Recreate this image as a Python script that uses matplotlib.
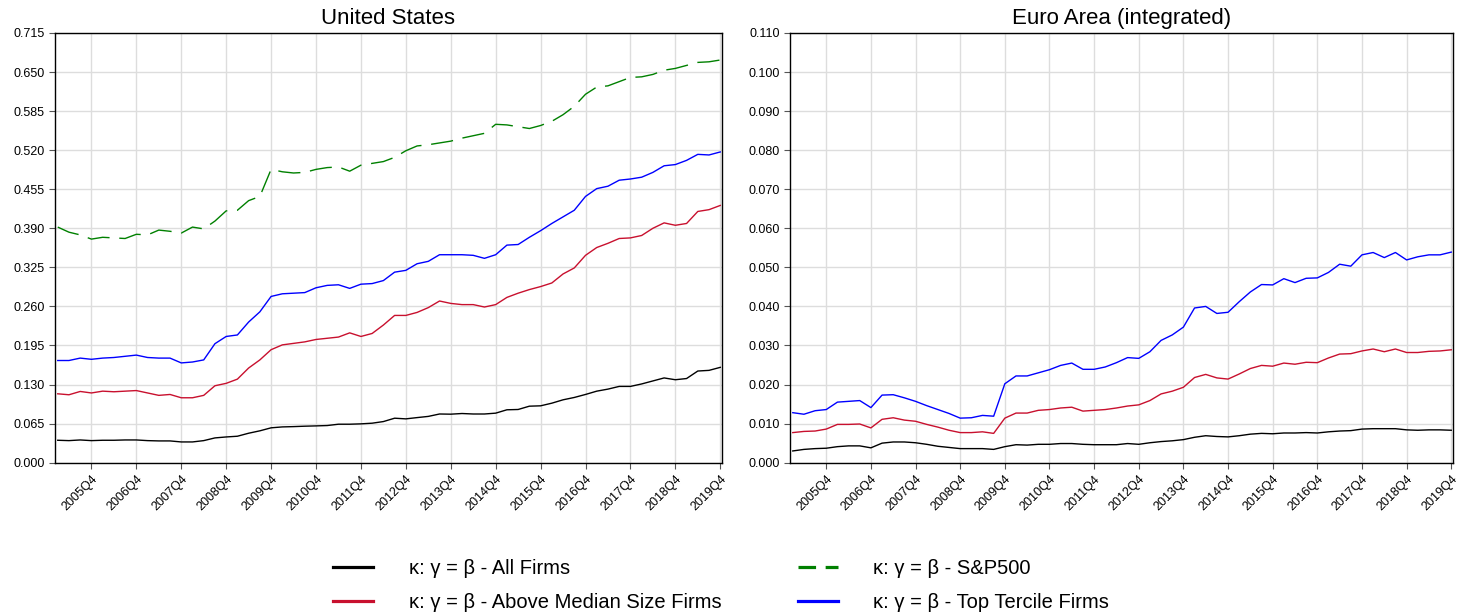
import matplotlib
matplotlib.use("Agg")
import matplotlib.pyplot as plt
from matplotlib.lines import Line2D
import numpy as np

plt.rcParams['font.family'] = ['Liberation Sans', 'DejaVu Sans']

# quarters 2005Q1 .. 2019Q4
quarters = [f"{y}Q{q}" for y in range(2005, 2020) for q in range(1, 5)]
tick_labels = [f"{y}Q4" for y in range(2005, 2020)]

# United States
us_all = [0.0373, 0.0367, 0.0378, 0.0367, 0.0373, 0.0373, 0.0378, 0.0378, 0.0367, 0.0362,
          0.0362, 0.0345, 0.0345, 0.0367, 0.0412, 0.0428, 0.0440, 0.0490, 0.0530, 0.0580,
          0.0595, 0.0600, 0.0607, 0.0612, 0.0618, 0.0640, 0.0640, 0.0646, 0.0657, 0.0684,
          0.0740, 0.0729, 0.0750, 0.0770, 0.0810, 0.0807, 0.0818, 0.0810, 0.0810, 0.0824,
          0.0880, 0.0885, 0.0940, 0.0946, 0.0990, 0.1046, 0.1085, 0.1135, 0.1190, 0.1224,
          0.1269, 0.1269, 0.1310, 0.1360, 0.1410, 0.1380, 0.1400, 0.1525, 0.1536, 0.1586]
us_above_median = [0.1146, 0.1130, 0.1185, 0.1160, 0.1190, 0.1180, 0.1190, 0.1200, 0.1160, 0.1120,
                   0.1135, 0.1080, 0.1080, 0.1120, 0.1280, 0.1320, 0.1390, 0.1575, 0.1710, 0.1880,
                   0.1960, 0.1985, 0.2010, 0.2050, 0.2070, 0.2090, 0.2160, 0.2100, 0.2150, 0.2290,
                   0.2450, 0.2450, 0.2500, 0.2580, 0.2690, 0.2650, 0.2630, 0.2630, 0.2590, 0.2630,
                   0.2750, 0.2820, 0.2880, 0.2930, 0.2990, 0.3140, 0.3240, 0.3450, 0.3580, 0.3650,
                   0.3730, 0.3740, 0.3780, 0.3900, 0.3990, 0.3950, 0.3980, 0.4180, 0.4210, 0.4280]
us_sp500 = [0.392, 0.3835, 0.379, 0.372, 0.375, 0.374, 0.373, 0.380, 0.379, 0.387,
            0.385, 0.382, 0.392, 0.389, 0.402, 0.419, 0.420, 0.436, 0.443, 0.488,
            0.484, 0.482, 0.483, 0.488, 0.491, 0.492, 0.485, 0.495, 0.498, 0.501,
            0.508, 0.519, 0.527, 0.529, 0.532, 0.535, 0.540, 0.544, 0.548, 0.563,
            0.562, 0.559, 0.556, 0.561, 0.568, 0.579, 0.593, 0.613, 0.625, 0.627,
            0.634, 0.641, 0.642, 0.646, 0.653, 0.656, 0.661, 0.666, 0.667, 0.670]
us_top_tercile = [0.170, 0.170, 0.174, 0.172, 0.174, 0.175, 0.177, 0.179, 0.175, 0.174,
                  0.174, 0.166, 0.1675, 0.171, 0.198, 0.210, 0.2125, 0.234, 0.251, 0.2766,
                  0.281, 0.282, 0.283, 0.291, 0.295, 0.296, 0.290, 0.297, 0.298, 0.303,
                  0.317, 0.320, 0.331, 0.335, 0.346, 0.346, 0.346, 0.345, 0.340, 0.346,
                  0.362, 0.363, 0.375, 0.386, 0.398, 0.409, 0.420, 0.443, 0.456, 0.460,
                  0.470, 0.472, 0.475, 0.483, 0.494, 0.496, 0.503, 0.513, 0.512, 0.517]

# Euro Area (integrated)
ea_all = [0.0030, 0.0034, 0.0036, 0.0037, 0.0041, 0.0043, 0.0043, 0.0038, 0.0050, 0.0053,
          0.0053, 0.0051, 0.0047, 0.0042, 0.0039, 0.0036, 0.0036, 0.0036, 0.0034, 0.0041,
          0.0046, 0.0045, 0.0047, 0.0047, 0.0049, 0.0049, 0.0047, 0.0046, 0.0046, 0.0046,
          0.0049, 0.0047, 0.0051, 0.0054, 0.0056, 0.0059, 0.0065, 0.0069, 0.0067, 0.0066,
          0.0069, 0.0073, 0.0075, 0.0074, 0.0076, 0.0076, 0.0077, 0.0076, 0.0079, 0.0081,
          0.0082, 0.0086, 0.0087, 0.0087, 0.0087, 0.0084, 0.0083, 0.0084, 0.0084, 0.0083]
ea_above_median = [0.0077, 0.0080, 0.0081, 0.0086, 0.0098, 0.0098, 0.0099, 0.0089, 0.0111, 0.0115,
                   0.0109, 0.0106, 0.0098, 0.0091, 0.0083, 0.0077, 0.0077, 0.0079, 0.0075, 0.0114,
                   0.0127, 0.0127, 0.0134, 0.0136, 0.0140, 0.0142, 0.0132, 0.0134, 0.0136, 0.0140,
                   0.0145, 0.0148, 0.0159, 0.0176, 0.0183, 0.0193, 0.0218, 0.0226, 0.0217, 0.0214,
                   0.0227, 0.0241, 0.0249, 0.0247, 0.0255, 0.0252, 0.0257, 0.0256, 0.0268, 0.0278,
                   0.0279, 0.0286, 0.0291, 0.0284, 0.0291, 0.0282, 0.0282, 0.0285, 0.0286, 0.0289]
ea_top_tercile = [0.0128, 0.0124, 0.0133, 0.0136, 0.0155, 0.0157, 0.0159, 0.0141, 0.0173, 0.0174,
                  0.0166, 0.0157, 0.0146, 0.0136, 0.0126, 0.0114, 0.0115, 0.0121, 0.0119, 0.0202,
                  0.0222, 0.0222, 0.0230, 0.0238, 0.0249, 0.0255, 0.0239, 0.0239, 0.0245, 0.0256,
                  0.0269, 0.0267, 0.0284, 0.0313, 0.0327, 0.0347, 0.0396, 0.0400, 0.0382, 0.0385,
                  0.0412, 0.0437, 0.0456, 0.0455, 0.0471, 0.0461, 0.0472, 0.0473, 0.0487, 0.0508,
                  0.0503, 0.0532, 0.0538, 0.0525, 0.0538, 0.0519, 0.0527, 0.0532, 0.0532, 0.0539]

labels = ["κ: γ = β - All Firms", "κ: γ = β - Above Median Size Firms",
          "κ: γ = β - S&P500", "κ: γ = β - Top Tercile Firms"]
colors = ["black", "#c8102e", "#008000", "#0000ff"]
green_dash = (16, 7)

fig = plt.figure(figsize=(14.57, 6.16), dpi=100)
ax1 = fig.add_axes([0.0377, 0.2489, 0.4578, 0.6976])
ax2 = fig.add_axes([0.5422, 0.2489, 0.4550, 0.6976])

x = np.arange(len(quarters))
tick_pos = [quarters.index(t) for t in tick_labels]


def style_axis(ax, ymax, step, fmt):
    ax.set_xlim(-0.25, len(quarters) - 0.85)
    ax.set_ylim(0, ymax)
    ax.set_yticks(np.arange(0, ymax + step / 2, step))
    ax.set_yticklabels([fmt.format(v) for v in np.arange(0, ymax + step / 2, step)])
    ax.set_xticks(tick_pos)
    ax.set_xticklabels(tick_labels, rotation=45, ha='right', rotation_mode='anchor')
    ax.grid(True, color='#dddddd', linewidth=1)
    ax.set_axisbelow(True)
    ax.tick_params(labelsize=9, length=4, width=0.8, color='#555555')
    for s in ax.spines.values():
        s.set_color('black')
        s.set_linewidth(1)


ax1.plot(x, us_all, color=colors[0], lw=1.0)
ax1.plot(x, us_above_median, color=colors[1], lw=1.0)
ax1.plot(x, us_sp500, color=colors[2], lw=1.0, dashes=green_dash)
ax1.plot(x, us_top_tercile, color=colors[3], lw=1.0)
style_axis(ax1, 0.715, 0.065, "{:.3f}")
ax1.set_title("United States", fontsize=16, pad=6.5)

ax2.plot(x, ea_all, color=colors[0], lw=1.0)
ax2.plot(x, ea_above_median, color=colors[1], lw=1.0)
ax2.plot(x, ea_top_tercile, color=colors[3], lw=1.0)
style_axis(ax2, 0.110, 0.010, "{:.3f}")
ax2.set_title("Euro Area (integrated)", fontsize=16, pad=6.5)

handles = [Line2D([], [], color=colors[0], lw=2.3),
           Line2D([], [], color=colors[1], lw=2.3),
           Line2D([], [], color=colors[2], lw=2.3, dashes=(5.5, 3)),
           Line2D([], [], color=colors[3], lw=2.3)]
fig.legend(handles, labels, loc='lower center', bbox_to_anchor=(0.495, -0.023), ncol=2,
           frameon=False, fontsize=14.5, handlelength=2.0, handletextpad=1.75,
           columnspacing=3.8, labelspacing=0.75)

fig.savefig("out.png", dpi=100)
